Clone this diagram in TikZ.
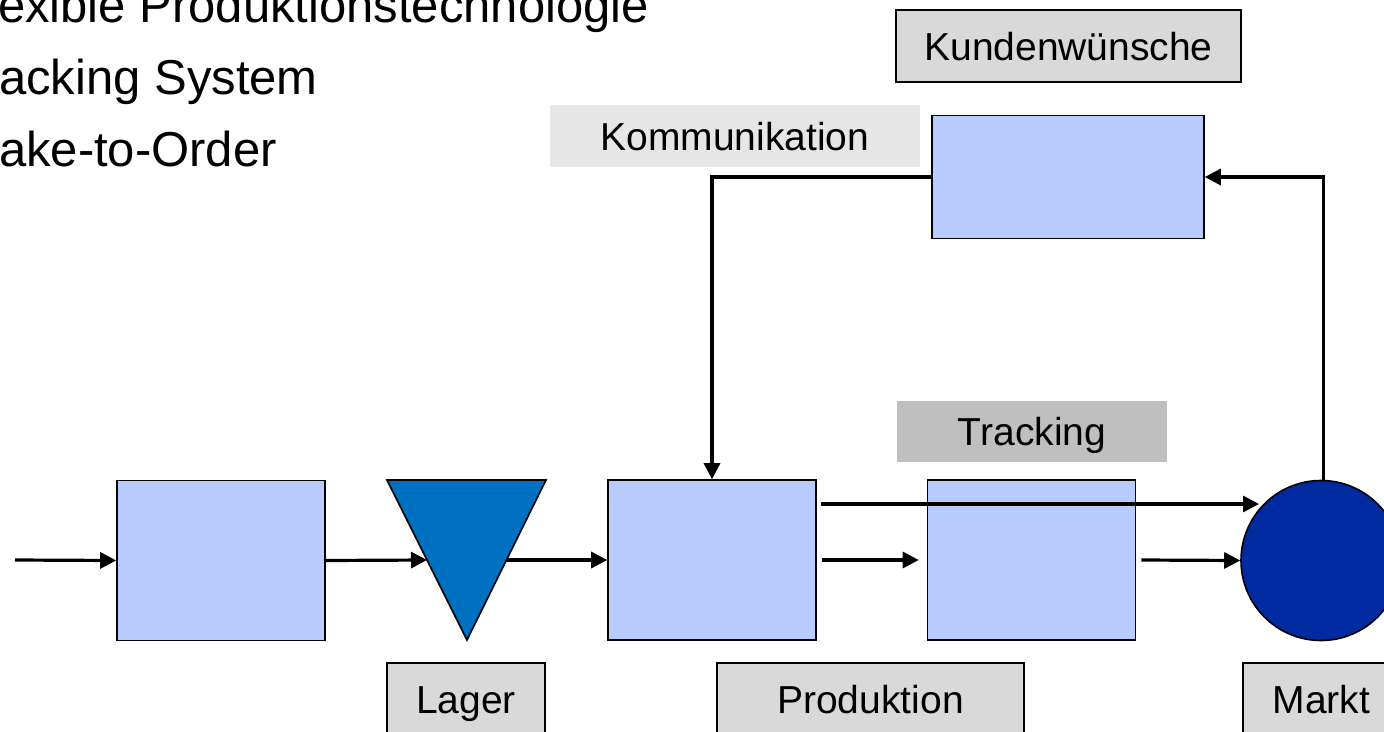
\documentclass[tikz,border=0pt]{standalone}
\usepackage{fontspec}
\setmainfont{Liberation Sans}
\usetikzlibrary{arrows.meta}
\definecolor{boxblue}{HTML}{B9CCFF}
\definecolor{trifill}{HTML}{0070C0}
\definecolor{mktfill}{HTML}{002AA0}
\definecolor{labfill}{HTML}{D9D9D9}
\definecolor{kommfill}{HTML}{E6E6E6}
\definecolor{trkfill}{HTML}{BFBFBF}
\begin{document}
\begin{tikzpicture}[x=1pt,y=-1pt,
  stage/.style={draw=black, line width=1.6pt, fill=boxblue, minimum width=208pt, minimum height=160pt, inner sep=0pt},
  labelbox/.style={draw=black, line width=1.3pt, fill=labfill, minimum height=72pt, inner sep=0pt,
    font=\fontsize{39}{47}\selectfont, text height=28pt, text depth=0pt},
  tagbox/.style={inner sep=0pt, minimum height=62pt, font=\fontsize{39}{47}\selectfont, text height=28pt, text depth=0pt},
  conn/.style={line width=3.2pt, -{Triangle[length=16pt,width=16pt]}},
  bullettext/.style={anchor=base west, inner sep=0pt, font=\fontsize{49}{58}\selectfont}]
\useasboundingbox (0,0) rectangle (1384,731);
\clip (0,0) rectangle (1384,731);
\fill[white] (0,0) rectangle (1384,731);

% bullet texts (clipped at the left edge as in the original)
\node[bullettext] (b1) at (-43,22) {Flexible Produktionstechnologie};
\node[bullettext] (b2) at (-45.5,94) {Tracking System};
\node[bullettext] (b3) at (-42,166) {Make-to-Order};

% labels
\node[labelbox, minimum width=345pt] (kw) at (1068.5,46) {Kundenwünsche};
\node[tagbox, fill=kommfill, minimum width=370pt] (ko) at (735,136) {Kommunikation};
\node[tagbox, fill=trkfill, minimum width=270pt, minimum height=61pt] (tk) at (1032,431.5) {Tracking};
\node[labelbox, minimum width=158pt] (la) at (466,699) {Lager};
\node[labelbox, minimum width=307pt] (pr) at (870.5,699) {Produktion};
\node[labelbox, minimum width=157pt] (ma) at (1321.5,699) {Markt};

% process elements
\node[stage] (s1) at (221,560.5) {};
\node[stage] (s3) at (712,560) {};
\node[stage] (s4) at (1031.5,560) {};
\node[stage, minimum width=272pt, minimum height=123pt] (s2) at (1068,177) {};
\draw[line width=1.6pt, fill=trifill, line join=miter] (387,480) -- (546,480) -- (467,640) -- cycle;
\coordinate (tl) at (427,560);
\coordinate (trr) at (506,560);
\node[circle, draw=black, line width=1.6pt, fill=mktfill, minimum size=160pt, inner sep=0pt] (mk) at (1321,560.5) {};

% connectors
\coordinate (src) at (15,560);
\draw[conn] (src) -- (s1.west);
\draw[conn] (s1.east) -- (tl);
\draw[conn] (trr) -- (s3.west);
\draw[conn] ([xshift=5pt]s3.east) -- ([xshift=-8pt]s4.west);
\coordinate (ts) at (821,504);
\coordinate (te) at (1259,504);
\draw[conn] (ts) -- (te);
\draw[conn] ([xshift=5pt]s4.east) -- (mk.west);
\draw[conn] (mk.88) |- (s2.east);
\draw[conn] (s2.west) -| (s3.north);
\end{tikzpicture}
\end{document}
